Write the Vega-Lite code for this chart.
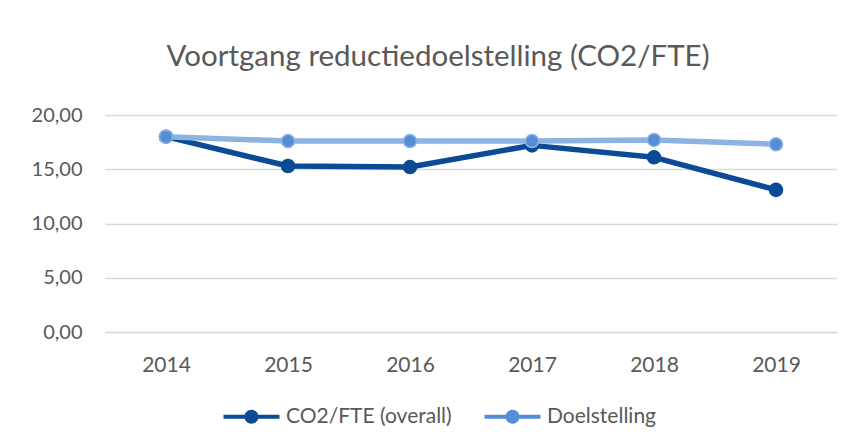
{
  "$schema": "https://vega.github.io/schema/vega-lite/v6.json",
  "autosize": "none",
  "width": 732,
  "height": 217,
  "padding": {"left": 105, "top": 115, "right": 18, "bottom": 116},
  "background": "white",
  "config": {
    "locale": {"number": {"decimal": ",", "thousands": ".", "grouping": [3], "currency": ["€", ""]}},
    "view": {"stroke": null},
    "font": "Lato"
  },
  "title": {
    "text": "Voortgang reductiedoelstelling (CO2/FTE)",
    "font": "Lato",
    "fontSize": 29.5,
    "fontWeight": "normal",
    "color": "#595959",
    "anchor": "middle",
    "dx": -33,
    "offset": 33
  },
  "data": {
    "values": [
      {"year": "2014", "series": "CO2/FTE (overall)", "value": 18.0},
      {"year": "2015", "series": "CO2/FTE (overall)", "value": 15.3},
      {"year": "2016", "series": "CO2/FTE (overall)", "value": 15.2},
      {"year": "2017", "series": "CO2/FTE (overall)", "value": 17.2},
      {"year": "2018", "series": "CO2/FTE (overall)", "value": 16.1},
      {"year": "2019", "series": "CO2/FTE (overall)", "value": 13.1},
      {"year": "2014", "series": "Doelstelling", "value": 18.0},
      {"year": "2015", "series": "Doelstelling", "value": 17.6},
      {"year": "2016", "series": "Doelstelling", "value": 17.6},
      {"year": "2017", "series": "Doelstelling", "value": 17.6},
      {"year": "2018", "series": "Doelstelling", "value": 17.7},
      {"year": "2019", "series": "Doelstelling", "value": 17.3}
    ]
  },
  "encoding": {
    "x": {
      "field": "year",
      "type": "ordinal",
      "scale": {"type": "point", "padding": 0.5},
      "axis": {
        "title": null,
        "labelAngle": 0,
        "labelFont": "Lato",
        "labelFontSize": 21,
        "labelColor": "#595959",
        "labelPadding": 22,
        "ticks": false,
        "domainColor": "#d9d9d9",
        "domainWidth": 1.3,
        "grid": false
      }
    },
    "y": {
      "field": "value",
      "type": "quantitative",
      "scale": {"domain": [0, 20]},
      "axis": {
        "title": null,
        "values": [0, 5, 10, 15, 20],
        "format": ".2f",
        "labelFont": "Lato",
        "labelFontSize": 20,
        "labelColor": "#595959",
        "labelPadding": 23,
        "ticks": false,
        "domain": false,
        "gridColor": "#d9d9d9",
        "gridWidth": 1.3
      }
    },
    "order": {"field": "series"}
  },
  "layer": [
    {
      "mark": {"type": "line", "strokeWidth": 5.5, "strokeCap": "round", "strokeJoin": "round"},
      "encoding": {
        "color": {
          "field": "series",
          "type": "nominal",
          "scale": {"domain": ["CO2/FTE (overall)", "Doelstelling"], "range": ["#0b4a94", "#8db3e2"]},
          "legend": {
            "title": null,
            "orient": "none",
            "direction": "horizontal",
            "legendX": 136,
            "legendY": 291,
            "symbolType": "M-4,-0.3L4,-0.3L4,0.3L-4,0.3ZM1,0A1,1,0,1,1,-1,0A1,1,0,1,1,1,0Z",
            "symbolSize": 196,
            "symbolStrokeWidth": 0,
            "labelOffset": 24,
            "labelLimit": 400,
            "columnPadding": 32,
            "labelFont": "Lato",
            "labelFontSize": 21,
            "labelColor": "#595959",
            "encode": {
              "symbols": {
                "update": {
                  "fill": {"scale": "color", "field": "value"},
                  "strokeWidth": {"value": 0},
                  "opacity": {"value": 1}
                }
              }
            }
          }
        }
      }
    },
    {
      "mark": {"type": "point", "filled": true, "size": 170, "opacity": 1, "strokeWidth": 1.5},
      "encoding": {
        "fill": {
          "field": "series",
          "type": "nominal",
          "scale": {"domain": ["CO2/FTE (overall)", "Doelstelling"], "range": ["#0b4a94", "#558ed5"]},
          "legend": null
        },
        "stroke": {
          "field": "series",
          "type": "nominal",
          "scale": {"domain": ["CO2/FTE (overall)", "Doelstelling"], "range": ["#0b4a94", "#8db3e2"]},
          "legend": null
        }
      }
    }
  ]
}
